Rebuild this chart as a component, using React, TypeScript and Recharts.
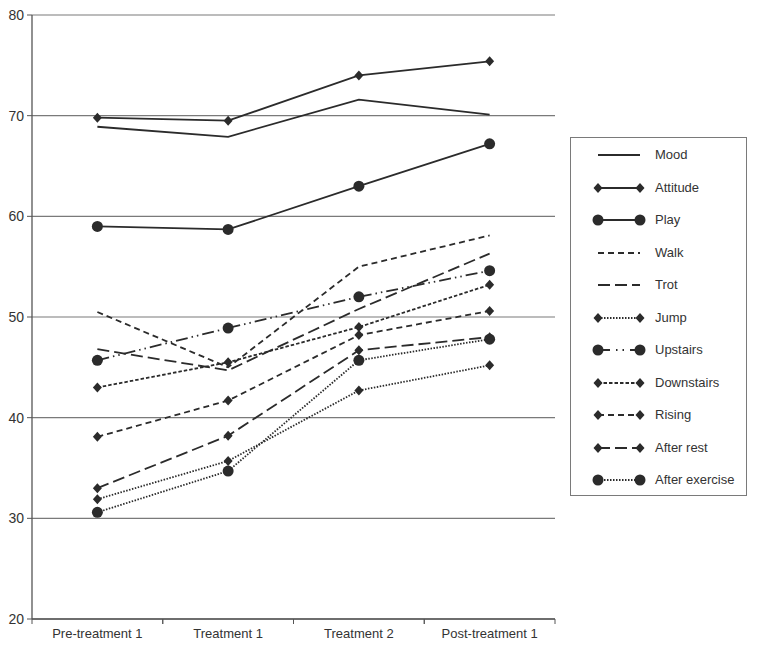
import React from "react";
import { LineChart, Line, XAxis, YAxis, CartesianGrid } from "recharts";

const categories = ["Pre-treatment 1", "Treatment 1", "Treatment 2", "Post-treatment 1"];
const mood = [68.9, 67.9, 71.6, 70.1];
const attitude = [69.8, 69.5, 74.0, 75.4];
const play = [59.0, 58.7, 63.0, 67.2];
const walk = [50.5, 45.0, 55.0, 58.1];
const trot = [46.8, 44.7, 50.8, 56.3];
const jump = [31.9, 35.7, 42.7, 45.2];
const upstairs = [45.7, 48.9, 52.0, 54.6];
const downstairs = [43.0, 45.5, 49.0, 53.2];
const rising = [38.1, 41.7, 48.2, 50.6];
const afterRest = [33.0, 38.2, 46.7, 48.0];
const afterExercise = [30.6, 34.7, 45.7, 47.8];
const yTicks = [20, 30, 40, 50, 60, 70, 80];

type Marker = "none" | "diamond" | "circle";
interface SeriesDef { key: string; name: string; values: number[]; dash?: string; marker: Marker; legendDash?: string; }

const series: SeriesDef[] = [
  { key: "mood", name: "Mood", values: mood, marker: "none" },
  { key: "attitude", name: "Attitude", values: attitude, marker: "diamond" },
  { key: "play", name: "Play", values: play, marker: "circle" },
  { key: "walk", name: "Walk", values: walk, dash: "6 4", marker: "none" },
  { key: "trot", name: "Trot", values: trot, dash: "12 5", marker: "none" },
  { key: "jump", name: "Jump", values: jump, dash: "1.5 1.5", marker: "diamond" },
  { key: "upstairs", name: "Upstairs", values: upstairs, dash: "12 4 1.5 4 1.5 4", marker: "circle", legendDash: "12 6 1.5 5 1.5 6" },
  { key: "downstairs", name: "Downstairs", values: downstairs, dash: "3.5 2", marker: "diamond" },
  { key: "rising", name: "Rising", values: rising, dash: "6 4", marker: "diamond" },
  { key: "afterRest", name: "After rest", values: afterRest, dash: "12 5", marker: "diamond" },
  { key: "afterExercise", name: "After exercise", values: afterExercise, dash: "1.5 1.5", marker: "circle" },
];

const data = categories.map((c, i) => {
  const row: Record<string, any> = { cat: c };
  series.forEach((s) => { row[s.key] = s.values[i]; });
  return row;
});

const INK = "#2b2b2b";
const GRID = "#7a7a7a";
const AXIS = "#555";
const FONT = "'Liberation Sans', Arial, Helvetica, sans-serif";

const W = 757, H = 646;
const M = { top: 15, right: 202, left: 0, bottom: 0 };
const YW = 32;
const XH = 27;
const plotW = W - M.left - M.right - YW;
const band = plotW / categories.length;

function diamondPath(cx: number, cy: number, r = 5) {
  return `M${cx},${cy - r}L${cx + r * 0.9},${cy}L${cx},${cy + r}L${cx - r * 0.9},${cy}Z`;
}

function makeDot(marker: Marker) {
  if (marker === "none") return false as any;
  return (props: any) => {
    const { cx, cy, index } = props;
    if (cx == null || cy == null) return <g key={`d${index}`} />;
    if (marker === "diamond") return <path key={`d${index}`} d={diamondPath(cx, cy)} fill={INK} stroke="none" />;
    return <circle key={`d${index}`} cx={cx} cy={cy} r={5.5} fill={INK} stroke="none" />;
  };
}

const XTick = (props: any) => {
  const { x, y, payload } = props;
  const axisY = y - 7;
  return (
    <g>
      <line x1={x - band / 2} x2={x - band / 2} y1={axisY} y2={axisY + 5} stroke={AXIS} strokeWidth={1} />
      <line x1={x + band / 2} x2={x + band / 2} y1={axisY} y2={axisY + 5} stroke={AXIS} strokeWidth={1} />
      <text x={x} y={y} dy={11.5} textAnchor="middle" fontSize={13} fill="#333" fontFamily={FONT}>
        {payload.value}
      </text>
    </g>
  );
};

const LegendBox = () => (
  <div
    style={{
      position: "absolute", left: 570, top: 137, width: 177, height: 359,
      border: `1.3px solid ${GRID}`, boxSizing: "border-box", fontFamily: FONT,
    }}
  >
    {series.map((s, i) => (
      <div key={s.key} style={{ position: "absolute", left: 0, top: 17 + i * 32.5 - 9, height: 18, width: "100%" }}>
        <svg width={60} height={18} style={{ position: "absolute", left: 20, top: 0 }}>
          <line x1={7} x2={49} y1={9} y2={9} stroke={INK} strokeWidth={1.8} strokeDasharray={s.legendDash ?? s.dash} />
          {s.marker === "diamond" && (<><path d={diamondPath(7, 9)} fill={INK} /><path d={diamondPath(49, 9)} fill={INK} /></>)}
          {s.marker === "circle" && (<><circle cx={7} cy={9} r={5.5} fill={INK} /><circle cx={49} cy={9} r={5.5} fill={INK} /></>)}
        </svg>
        <span style={{ position: "absolute", left: 84, top: 0, lineHeight: "18px", fontSize: 13, color: "#333", whiteSpace: "nowrap" }}>
          {s.name}
        </span>
      </div>
    ))}
  </div>
);

export default function App() {
  return (
    <div style={{ position: "absolute", left: 0, top: 0, width: W, height: H, background: "#fff" }}>
      <LineChart width={W} height={H} data={data} margin={M}>
        <CartesianGrid vertical={false} stroke={GRID} strokeWidth={1.2} yAxisId="l" />
        <XAxis
          dataKey="cat"
          height={XH}
          padding={{ left: band / 2, right: band / 2 }}
          axisLine={{ stroke: AXIS, strokeWidth: 1.3 }}
          tickLine={false}
          tickSize={5}
          tickMargin={2}
          tick={<XTick />}
          interval={0}
        />
        <YAxis
          yAxisId="l"
          width={YW}
          domain={[20, 80]}
          ticks={yTicks}
          axisLine={{ stroke: AXIS, strokeWidth: 1.3 }}
          tickLine={{ stroke: AXIS }}
          tickSize={5}
          tickMargin={3}
          tick={{ fontSize: 14, fill: "#333", fontFamily: FONT }}
          interval={0}
        />
        <YAxis
          yAxisId="r"
          orientation="right"
          width={0}
          domain={[20, 80]}
          tick={false}
          tickLine={false}
          axisLine={{ stroke: GRID, strokeWidth: 1.3 }}
        />
        {series.map((s) => (
          <Line
            key={s.key}
            yAxisId="l"
            type="linear"
            dataKey={s.key}
            name={s.name}
            stroke={INK}
            strokeWidth={1.8}
            strokeDasharray={s.dash}
            dot={makeDot(s.marker)}
            activeDot={false}
            isAnimationActive={false}
          />
        ))}
      </LineChart>
      <LegendBox />
    </div>
  );
}
